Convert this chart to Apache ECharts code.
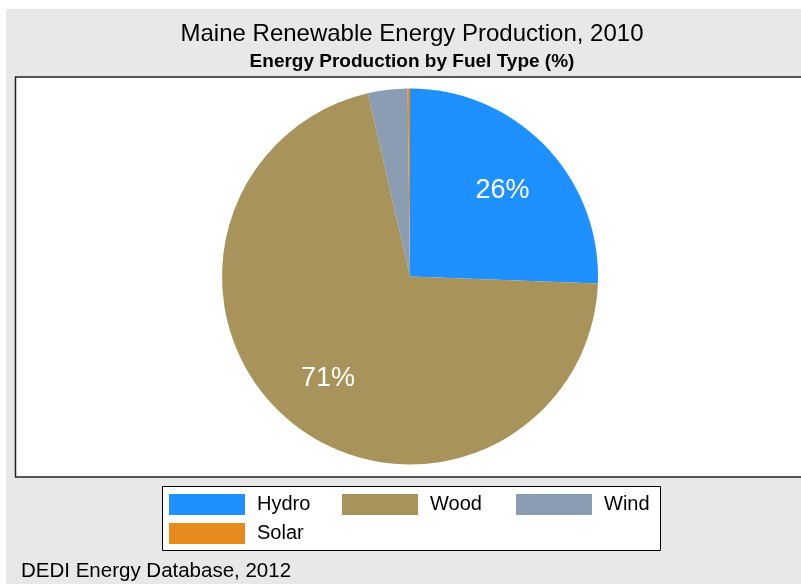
<!DOCTYPE html>
<html>
<head>
<meta charset="utf-8">
<script src="https://cdn.jsdelivr.net/npm/echarts@6/dist/echarts.min.js"></script>
<style>
  html, body { margin: 0; padding: 0; background: #fff; }
  #chart { width: 801px; height: 584px; }
</style>
</head>
<body>
<div id="chart"></div>
<script>
// fuel types and their share of production (%)
var fuelTypes = ["Hydro", "Wood", "Wind", "Solar"];
var shares = [25.6, 70.8, 3.4, 0.2];
var fuelColors = ["#1e90ff", "#a8935a", "#8a9db2", "#e88b1e"];

var font = "'Liberation Sans', Arial, sans-serif";

var pieData = fuelTypes.map(function (name, i) {
  return { name: name, value: shares[i], itemStyle: { color: fuelColors[i] } };
});

// one legend per entry so the columns line up like the original grid (3 per row)
var legendSlots = [[169, 494], [342, 494], [516, 494], [169, 523]];
var legends = fuelTypes.map(function (name, i) {
  return {
    data: [name],
    left: legendSlots[i][0],
    top: legendSlots[i][1],
    padding: 0,
    icon: "rect",
    itemWidth: 76,
    itemHeight: 21,
    selectedMode: false,
    textStyle: { fontFamily: font, fontSize: 20, color: "#000", padding: [0, 0, 0, 7] }
  };
});

var chart = echarts.init(document.getElementById("chart"));

chart.setOption({
  backgroundColor: "#fff",
  animation: false,
  title: [
    {
      text: "Maine Renewable Energy Production, 2010",
      left: 407,
      textAlign: "center",
      top: 17,
      textStyle: { fontFamily: font, fontSize: 24, fontWeight: "normal", color: "#000" }
    },
    {
      text: "Energy Production by Fuel Type (%)",
      left: 407,
      textAlign: "center",
      top: 47,
      textStyle: { fontFamily: font, fontSize: 19, fontWeight: "bold", color: "#000" }
    },
    {
      text: "DEDI Energy Database, 2012",
      left: 16,
      top: 556,
      textStyle: { fontFamily: font, fontSize: 20.5, fontWeight: "normal", color: "#000" }
    }
  ],
  graphic: [
    // gray page
    { type: "rect", z: -10, silent: true, shape: { x: 6, y: 9, width: 800, height: 580 }, style: { fill: "#e8e8e8" } },
    // plot frame
    { type: "rect", z: -9, silent: true, shape: { x: 15.5, y: 77, width: 800, height: 400 }, style: { fill: "#fff", stroke: "#222", lineWidth: 1.5 } },
    // legend frame
    { type: "rect", z: -9, silent: true, shape: { x: 162.5, y: 486.5, width: 498, height: 64 }, style: { fill: "#fff", stroke: "#000", lineWidth: 1 } }
  ],
  legend: legends,
  series: [
    {
      name: "share",
      type: "pie",
      center: [410, 276.5],
      radius: [0, 188],
      startAngle: 90,
      clockwise: true,
      silent: true,
      label: { show: false },
      labelLine: { show: false },
      data: pieData
    },
    {
      // label-only ring so the percentages sit at ~2/3 of the radius
      name: "labels",
      type: "pie",
      center: [410, 276.5],
      radius: [63, 188],
      startAngle: 90,
      clockwise: true,
      silent: true,
      minShowLabelAngle: 20,
      itemStyle: { color: "transparent" },
      label: {
        show: true,
        position: "inside",
        offset: [0, 3],
        fontFamily: font,
        fontSize: 27,
        color: "#fff",
        formatter: function (p) { return Math.round(p.percent) + "%"; }
      },
      labelLine: { show: false },
      data: fuelTypes.map(function (name, i) { return { name: name, value: shares[i] }; })
    }
  ]
});
</script>
</body>
</html>
